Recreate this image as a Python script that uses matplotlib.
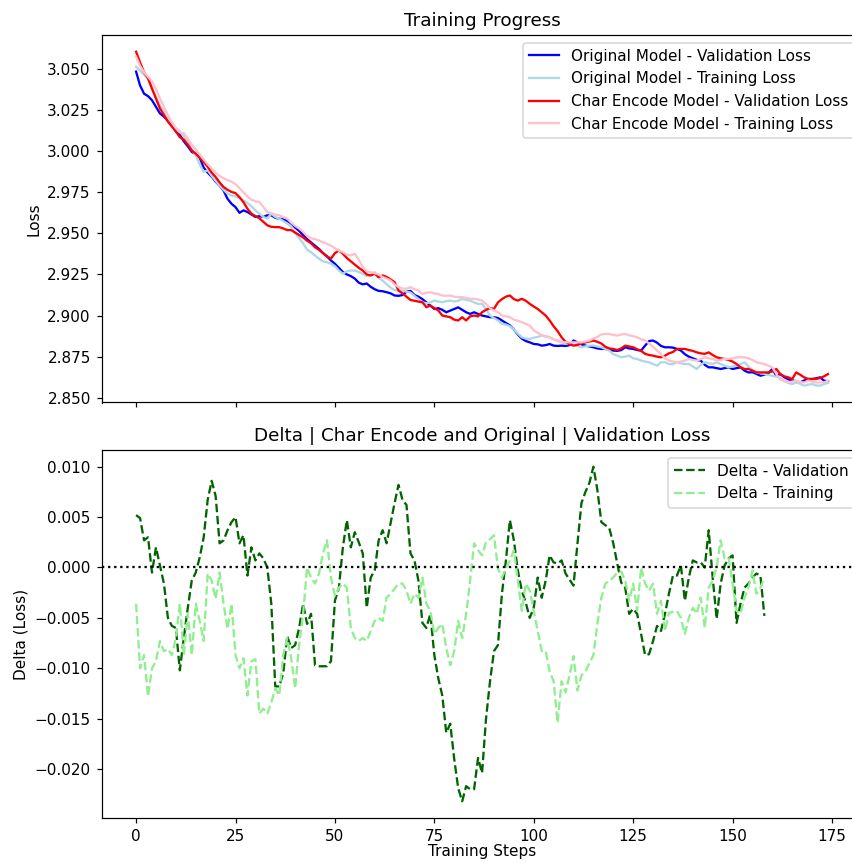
import matplotlib
matplotlib.use("Agg")
import matplotlib.pyplot as plt
import numpy as np

orig_val = [
3.0484,3.0400,3.0350,3.0335,3.0310,3.0270,3.0230,3.0210,3.0185,3.0165,
3.0120,3.0100,3.0060,3.0030,2.9996,2.9980,2.9960,2.9900,2.9870,2.9845,
2.9815,2.9790,2.9760,2.9710,2.9680,2.9660,2.9625,2.9640,2.9630,2.9615,
2.9600,2.9605,2.9600,2.9610,2.9610,2.9595,2.9590,2.9585,2.9575,2.9560,
2.9535,2.9515,2.9490,2.9465,2.9445,2.9425,2.9405,2.9380,2.9360,2.9335,
2.9315,2.9290,2.9265,2.9250,2.9240,2.9225,2.9200,2.9190,2.9195,2.9175,
2.9160,2.9150,2.9148,2.9142,2.9135,2.9122,2.9120,2.9125,2.9145,2.9150,
2.9125,2.9115,2.9100,2.9080,2.9060,2.9040,2.9045,2.9035,2.9020,2.9030,
2.9040,2.9050,2.9035,2.9020,2.9010,2.9020,2.9010,2.9000,2.8995,2.8990,
2.8990,2.8985,2.8970,2.8955,2.8940,2.8915,2.8885,2.8860,2.8845,2.8837,
2.8827,2.8825,2.8817,2.8820,2.8827,2.8817,2.8815,2.8817,2.8815,2.8820,
2.8848,2.8837,2.8825,2.8817,2.8812,2.8807,2.8800,2.8797,2.8797,2.8792,
2.8787,2.8785,2.8790,2.8807,2.8800,2.8797,2.8790,2.8787,2.8817,2.8845,
2.8848,2.8835,2.8815,2.8807,2.8807,2.8805,2.8797,2.8787,2.8765,2.8750,
2.8740,2.8730,2.8726,2.8700,2.8685,2.8685,2.8680,2.8675,2.8680,2.8685,
2.8675,2.8680,2.8685,2.8665,2.8654,2.8655,2.8645,2.8634,2.8640,2.8650,
2.8675,2.8634,2.8644,2.8625,2.8612,2.8606,2.8600,2.8593,2.8605,2.8614,
2.8614,2.8618,2.8624,2.8604,2.8600]

orig_train = [
3.0514,3.0490,3.0465,3.0443,3.0390,3.0330,3.0280,3.0240,3.0200,3.0170,
3.0140,3.0120,3.0090,3.0060,3.0010,2.9975,2.9920,2.9874,2.9884,2.9850,
2.9820,2.9790,2.9765,2.9742,2.9730,2.9725,2.9715,2.9700,2.9685,2.9665,
2.9640,2.9620,2.9600,2.9590,2.9620,2.9600,2.9590,2.9575,2.9560,2.9540,
2.9500,2.9470,2.9440,2.9400,2.9385,2.9365,2.9346,2.9330,2.9325,2.9315,
2.9300,2.9274,2.9254,2.9270,2.9274,2.9274,2.9265,2.9254,2.9240,2.9245,
2.9264,2.9230,2.9213,2.9190,2.9170,2.9155,2.9152,2.9152,2.9145,2.9140,
2.9120,2.9100,2.9081,2.9075,2.9080,2.9091,2.9085,2.9081,2.9088,2.9091,
2.9085,2.9090,2.9102,2.9095,2.9091,2.9080,2.9071,2.9071,2.9040,2.9000,
2.8985,2.8970,2.8950,2.8945,2.8935,2.8915,2.8890,2.8868,2.8860,2.8858,
2.8865,2.8870,2.8878,2.8872,2.8868,2.8855,2.8845,2.8837,2.8830,2.8827,
2.8820,2.8815,2.8807,2.8812,2.8817,2.8817,2.8812,2.8807,2.8797,2.8787,
2.8765,2.8756,2.8746,2.8750,2.8756,2.8740,2.8736,2.8726,2.8720,2.8716,
2.8705,2.8695,2.8716,2.8716,2.8705,2.8705,2.8716,2.8710,2.8705,2.8705,
2.8690,2.8675,2.8700,2.8716,2.8710,2.8705,2.8716,2.8705,2.8695,2.8685,
2.8690,2.8695,2.8705,2.8716,2.8690,2.8670,2.8654,2.8650,2.8644,2.8638,
2.8634,2.8628,2.8620,2.8604,2.8590,2.8583,2.8593,2.8585,2.8573,2.8580,
2.8583,2.8575,2.8573,2.8583,2.8590]

char_val = [
3.0605,3.0540,3.0480,3.0443,3.0380,3.0320,3.0260,3.0220,3.0180,3.0150,
3.0120,3.0085,3.0070,3.0040,3.0005,2.9985,2.9960,2.9935,2.9905,2.9870,
2.9843,2.9810,2.9782,2.9765,2.9752,2.9745,2.9720,2.9690,2.9650,2.9620,
2.9605,2.9592,2.9570,2.9549,2.9540,2.9538,2.9538,2.9530,2.9520,2.9520,
2.9505,2.9490,2.9475,2.9455,2.9440,2.9415,2.9400,2.9380,2.9360,2.9346,
2.9380,2.9396,2.9376,2.9350,2.9330,2.9310,2.9290,2.9274,2.9250,2.9244,
2.9254,2.9234,2.9244,2.9235,2.9220,2.9203,2.9152,2.9135,2.9115,2.9095,
2.9090,2.9085,2.9081,2.9051,2.9061,2.9045,2.9031,2.9000,2.8995,2.8990,
2.8975,2.8970,2.8990,2.8970,2.8995,2.9000,2.8995,2.9020,2.9035,2.9045,
2.9041,2.9080,2.9100,2.9115,2.9122,2.9100,2.9091,2.9102,2.9090,2.9071,
2.9055,2.9040,2.9020,2.9000,2.8970,2.8935,2.8905,2.8868,2.8840,2.8825,
2.8817,2.8822,2.8830,2.8837,2.8842,2.8848,2.8840,2.8830,2.8810,2.8800,
2.8797,2.8790,2.8800,2.8817,2.8812,2.8807,2.8795,2.8785,2.8767,2.8760,
2.8756,2.8750,2.8746,2.8756,2.8770,2.8778,2.8797,2.8797,2.8797,2.8790,
2.8785,2.8776,2.8770,2.8767,2.8776,2.8760,2.8746,2.8740,2.8736,2.8730,
2.8720,2.8705,2.8685,2.8675,2.8675,2.8665,2.8654,2.8654,2.8654,2.8654,
2.8660,2.8675,2.8644,2.8630,2.8624,2.8614,2.8654,2.8640,2.8624,2.8614,
2.8614,2.8614,2.8620,2.8630,2.8644]

char_train = [
3.0575,3.0520,3.0480,3.0453,3.0425,3.0380,3.0320,3.0270,3.0220,3.0175,
3.0140,3.0115,3.0110,3.0075,3.0040,3.0010,2.9980,2.9950,2.9920,2.9895,
2.9870,2.9850,2.9835,2.9823,2.9815,2.9800,2.9775,2.9750,2.9725,2.9705,
2.9695,2.9691,2.9660,2.9630,2.9622,2.9615,2.9610,2.9600,2.9590,2.9565,
2.9545,2.9530,2.9510,2.9485,2.9470,2.9465,2.9457,2.9445,2.9437,2.9425,
2.9410,2.9395,2.9386,2.9370,2.9366,2.9376,2.9340,2.9295,2.9270,2.9264,
2.9258,2.9250,2.9234,2.9225,2.9213,2.9190,2.9173,2.9165,2.9163,2.9173,
2.9160,2.9152,2.9132,2.9138,2.9142,2.9135,2.9130,2.9122,2.9120,2.9122,
2.9115,2.9112,2.9112,2.9108,2.9102,2.9102,2.9098,2.9091,2.9070,2.9045,
2.9030,2.9020,2.9000,2.8995,2.8990,2.8975,2.8968,2.8960,2.8950,2.8939,
2.8910,2.8895,2.8880,2.8875,2.8868,2.8855,2.8848,2.8840,2.8837,2.8837,
2.8837,2.8837,2.8837,2.8842,2.8848,2.8860,2.8870,2.8885,2.8888,2.8888,
2.8882,2.8878,2.8885,2.8888,2.8880,2.8875,2.8868,2.8855,2.8848,2.8830,
2.8810,2.8787,2.8765,2.8740,2.8726,2.8720,2.8716,2.8720,2.8726,2.8736,
2.8730,2.8726,2.8735,2.8746,2.8740,2.8736,2.8726,2.8730,2.8736,2.8736,
2.8740,2.8746,2.8746,2.8746,2.8740,2.8730,2.8716,2.8710,2.8705,2.8695,
2.8685,2.8645,2.8610,2.8600,2.8593,2.8598,2.8604,2.8595,2.8593,2.8604,
2.8598,2.8593,2.8593,2.8593,2.8604]

delta_val = [
0.0052,0.0049,0.0027,0.0030,-0.0005,0.0020,0.0002,-0.0016,-0.0050,-0.0058,
-0.0060,-0.0102,-0.0070,-0.0040,-0.0013,-0.0005,0.0010,0.0030,0.0067,0.0086,
0.0071,0.0024,0.0027,0.0037,0.0045,0.0050,0.0024,0.0032,-0.0008,0.0020,
0.0007,0.0014,0.0009,0.0000,-0.0036,-0.0118,-0.0118,-0.0105,-0.0068,-0.0080,
-0.0077,-0.0060,-0.0036,-0.0056,-0.0046,-0.0097,-0.0098,-0.0098,-0.0098,-0.0093,
-0.0033,-0.0020,0.0020,0.0047,0.0020,0.0035,0.0025,0.0014,-0.0040,-0.0010,
-0.0003,0.0027,0.0037,0.0024,0.0044,0.0064,0.0082,0.0067,0.0062,0.0014,
0.0007,-0.0013,-0.0055,-0.0060,-0.0046,-0.0087,-0.0110,-0.0127,-0.0164,-0.0155,
-0.0190,-0.0219,-0.0232,-0.0217,-0.0220,-0.0220,-0.0189,-0.0204,-0.0150,-0.0113,
-0.0083,-0.0077,-0.0026,0.0007,0.0047,0.0027,-0.0003,-0.0023,-0.0035,-0.0050,
-0.0040,-0.0010,-0.0030,-0.0013,0.0012,0.0005,0.0004,0.0007,-0.0006,-0.0012,
-0.0018,0.0024,0.0064,0.0075,0.0084,0.0100,0.0077,0.0045,0.0042,0.0039,
0.0024,0.0004,-0.0015,-0.0020,-0.0046,-0.0041,-0.0046,-0.0066,-0.0087,-0.0086,
-0.0073,-0.0058,-0.0063,-0.0046,-0.0026,-0.0008,-0.0008,0.0002,-0.0033,-0.0010,
0.0007,0.0005,0.0005,0.0000,0.0037,-0.0010,-0.0051,-0.0016,0.0002,0.0009,
0.0012,-0.0055,-0.0036,-0.0020,-0.0016,-0.0010,-0.0006,-0.0008,-0.0048]

delta_train = [
-0.0036,-0.0100,-0.0087,-0.0128,-0.0100,-0.0093,-0.0073,-0.0083,-0.0081,-0.0087,
-0.0070,-0.0036,-0.0087,-0.0046,-0.0087,-0.0036,-0.0053,-0.0073,-0.0006,-0.0013,
-0.0031,-0.0005,-0.0036,-0.0061,-0.0036,-0.0087,-0.0100,-0.0090,-0.0127,-0.0093,
-0.0091,-0.0145,-0.0140,-0.0145,-0.0134,-0.0120,-0.0127,-0.0087,-0.0070,-0.0090,
-0.0120,-0.0077,-0.0046,0.0000,-0.0010,-0.0016,-0.0006,0.0014,0.0027,-0.0010,
-0.0028,-0.0020,-0.0016,-0.0020,-0.0060,-0.0070,-0.0073,-0.0070,-0.0073,-0.0063,
-0.0053,-0.0050,-0.0053,-0.0030,-0.0026,-0.0021,-0.0016,-0.0016,-0.0023,-0.0036,
-0.0026,-0.0030,-0.0010,-0.0036,-0.0043,-0.0066,-0.0060,-0.0056,-0.0080,-0.0097,
-0.0083,-0.0053,-0.0070,-0.0046,-0.0013,0.0024,0.0017,0.0012,0.0025,0.0028,
0.0032,-0.0001,-0.0010,-0.0001,0.0007,0.0017,-0.0013,-0.0043,-0.0016,-0.0023,
-0.0043,-0.0063,-0.0083,-0.0083,-0.0103,-0.0113,-0.0154,-0.0113,-0.0124,-0.0107,
-0.0088,-0.0122,-0.0107,-0.0103,-0.0095,-0.0087,-0.0056,-0.0030,-0.0016,-0.0013,
-0.0010,-0.0005,-0.0004,-0.0013,-0.0033,-0.0016,-0.0043,0.0000,-0.0016,-0.0023,
-0.0016,-0.0046,-0.0033,-0.0063,-0.0045,-0.0044,-0.0043,-0.0050,-0.0066,-0.0050,
-0.0040,-0.0046,-0.0030,-0.0060,-0.0020,-0.0013,0.0000,0.0027,0.0009,0.0010,
-0.0016,-0.0043,-0.0046,-0.0030,-0.0020,-0.0003,-0.0026,-0.0020,-0.0010]

steps_top = np.arange(len(orig_val))
steps_delta = np.arange(len(delta_val))

DPI = 110
W, H = 852.0, 863.0
fig = plt.figure(figsize=(W / DPI, H / DPI), dpi=DPI)
ax1 = fig.add_axes([101.5 / W, 1 - 402.5 / H, 761.1 / W, 367.5 / H])
ax2 = fig.add_axes([101.5 / W, 1 - 818 / H, 761.1 / W, 368 / H], sharex=ax1)

ax1.plot(steps_top, orig_val, color='blue', label='Original Model - Validation Loss')
ax1.plot(steps_top, orig_train, color='lightblue', label='Original Model - Training Loss')
ax1.plot(steps_top, char_val, color='red', label='Char Encode Model - Validation Loss')
ax1.plot(steps_top, char_train, color='pink', label='Char Encode Model - Training Loss')
ax1.set_title('Training Progress')
ax1.set_ylabel('Loss')
ax1.legend(loc='upper right')
ax1.set_ylim(2.8471, 3.0707)
plt.setp(ax1.get_xticklabels(), visible=False)

ax2.plot(steps_delta, delta_val, color='darkgreen', linestyle='--', label='Delta - Validation')
ax2.plot(steps_delta, delta_train, color='lightgreen', linestyle='--', label='Delta - Training')
ax2.axhline(0, color='black', linestyle=':')
ax2.set_title('Delta | Char Encode and Original | Validation Loss')
ax2.set_ylabel('Delta (Loss)')
ax2.set_xlabel('Training Steps', labelpad=0.5)
ax2.legend(loc='upper right')
ax2.set_ylim(-0.02486, 0.01166)
ax2.set_xlim(-8.7, 182.7)

fig.savefig('out.png', dpi=DPI)
